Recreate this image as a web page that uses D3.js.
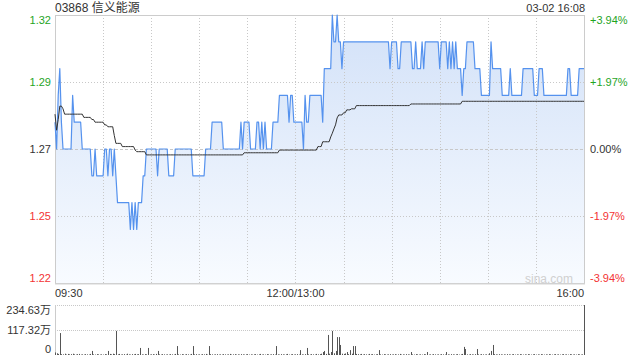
<!DOCTYPE html>
<html><head><meta charset="utf-8">
<script src="https://cdn.jsdelivr.net/npm/d3@7/dist/d3.min.js"></script>
<style>body{margin:0;background:#fff}svg{display:block}text{font-family:"Liberation Sans",Arial,"Noto Sans CJK SC",sans-serif}</style>
</head><body>
<svg id="c" width="640" height="360"></svg>
<script>
const title = "03868 信义能源";
const stamp = "03-02 16:08";
const prevClose = 1.27;
const priceTicks = [1.32, 1.295, 1.27, 1.245, 1.22];
const priceTickLabels = ["1.32", "1.29", "1.27", "1.25", "1.22"];
const pctTickLabels = ["+3.94%", "+1.97%", "0.00%", "-1.97%", "-3.94%"];
const timeGrid = [0, 30, 60, 90, 120, 150, 180, 210, 240, 270, 300, 330];
const timeLabels = ["09:30", "12:00/13:00", "16:00"];
const timeLabelIdx = [0, 150, 330];
const volTicks = [234.63, 117.32, 0];
const volTickLabels = ["234.63万", "117.32万", "0"];

const price = [
1.28,1.27,1.29,1.30,1.28,1.27,1.27,1.27,1.27,1.27,
1.27,1.29,1.28,1.28,1.28,1.28,1.28,1.27,1.27,1.27,
1.27,1.27,1.27,1.26,1.26,1.27,1.26,1.26,1.26,1.26,
1.26,1.27,1.27,1.26,1.27,1.27,1.26,1.27,1.26,1.25,
1.25,1.25,1.25,1.25,1.25,1.25,1.25,1.24,1.25,1.24,
1.25,1.24,1.25,1.25,1.25,1.26,1.26,1.27,1.27,1.27,
1.27,1.27,1.27,1.27,1.26,1.27,1.27,1.27,1.27,1.27,
1.27,1.26,1.26,1.26,1.26,1.27,1.27,1.27,1.27,1.27,
1.27,1.27,1.27,1.27,1.27,1.27,1.26,1.26,1.26,1.26,
1.26,1.26,1.26,1.26,1.27,1.27,1.27,1.27,1.28,1.28,
1.28,1.28,1.28,1.28,1.28,1.27,1.27,1.27,1.27,1.27,
1.27,1.27,1.27,1.27,1.27,1.27,1.28,1.27,1.28,1.28,
1.28,1.28,1.27,1.27,1.27,1.27,1.28,1.28,1.27,1.28,
1.27,1.28,1.27,1.27,1.27,1.27,1.28,1.28,1.28,1.28,
1.29,1.29,1.29,1.29,1.29,1.29,1.28,1.29,1.29,1.28,
1.28,1.28,1.28,1.28,1.28,1.27,1.29,1.28,1.28,1.29,
1.29,1.29,1.29,1.29,1.29,1.29,1.29,1.28,1.30,1.30,
1.30,1.30,1.30,1.32,1.31,1.31,1.32,1.31,1.31,1.30,
1.31,1.31,1.31,1.31,1.31,1.31,1.31,1.31,1.31,1.31,
1.31,1.31,1.31,1.31,1.31,1.31,1.31,1.31,1.31,1.31,
1.31,1.31,1.31,1.31,1.31,1.31,1.31,1.31,1.31,1.30,
1.31,1.31,1.31,1.31,1.30,1.30,1.31,1.31,1.31,1.31,
1.31,1.31,1.31,1.30,1.30,1.31,1.30,1.30,1.30,1.31,
1.30,1.31,1.31,1.31,1.31,1.31,1.31,1.31,1.31,1.31,
1.30,1.31,1.31,1.31,1.31,1.30,1.31,1.30,1.31,1.30,
1.31,1.30,1.30,1.30,1.29,1.30,1.30,1.31,1.31,1.31,
1.31,1.31,1.30,1.30,1.30,1.30,1.29,1.29,1.29,1.29,
1.29,1.29,1.31,1.30,1.30,1.30,1.30,1.30,1.30,1.29,
1.29,1.29,1.29,1.29,1.30,1.29,1.29,1.29,1.29,1.29,
1.29,1.29,1.30,1.30,1.30,1.30,1.30,1.30,1.30,1.29,
1.29,1.29,1.30,1.30,1.30,1.29,1.29,1.29,1.29,1.29,
1.29,1.29,1.29,1.29,1.29,1.29,1.29,1.29,1.29,1.29,
1.30,1.30,1.29,1.29,1.29,1.29,1.29,1.30,1.30,1.30,
1.30];

const avgPrice = [
1.283,1.277,1.281,1.286,1.286,1.285,1.283,1.283,1.283,1.283,
1.283,1.283,1.283,1.283,1.283,1.283,1.283,1.283,1.2818,1.2818,
1.2818,1.2818,1.2818,1.281,1.281,1.280,1.280,1.280,1.280,1.280,
1.280,1.279,1.279,1.2783,1.2783,1.2783,1.2783,1.275,1.2721,1.2721,
1.2721,1.2721,1.2709,1.2709,1.2709,1.2709,1.2709,1.2709,1.2709,1.2709,
1.2696,1.269,1.269,1.269,1.269,1.269,1.269,1.2678,1.2678,1.2678,
1.2678,1.2678,1.2678,1.2678,1.2678,1.2678,1.2678,1.2678,1.2678,1.2678,
1.2678,1.2678,1.2678,1.2678,1.2678,1.2678,1.2678,1.2678,1.2678,1.2678,
1.2678,1.2678,1.2678,1.2678,1.2678,1.2678,1.2678,1.2678,1.2678,1.2678,
1.2678,1.2678,1.2678,1.2678,1.2678,1.2678,1.2678,1.2678,1.2678,1.2678,
1.2678,1.2678,1.2678,1.2678,1.2678,1.2678,1.2678,1.2678,1.2678,1.2678,
1.2678,1.2678,1.2678,1.2678,1.2678,1.2678,1.2678,1.2678,1.2686,1.2686,
1.2686,1.2686,1.2686,1.2686,1.2686,1.2686,1.2686,1.2686,1.2686,1.2686,
1.2686,1.2686,1.2686,1.2686,1.2686,1.2686,1.2686,1.2686,1.2686,1.2686,
1.2696,1.2696,1.2696,1.2696,1.2696,1.2696,1.2696,1.2696,1.2696,1.2696,
1.2696,1.2696,1.2696,1.2696,1.2696,1.2696,1.2696,1.2696,1.2696,1.2696,
1.2696,1.2696,1.2696,1.2696,1.2709,1.2709,1.2709,1.2727,1.2727,1.2727,
1.2727,1.2727,1.2745,1.2759,1.2775,1.279,1.2816,1.2827,1.2827,1.2827,
1.2835,1.2835,1.2846,1.2846,1.2846,1.285,1.285,1.285,1.2862,1.2862,
1.2862,1.2862,1.2862,1.2862,1.2862,1.2862,1.2862,1.2862,1.2862,1.2862,
1.2862,1.2862,1.2862,1.2862,1.2862,1.2862,1.2862,1.2862,1.2862,1.2862,
1.2862,1.2862,1.2862,1.2862,1.2862,1.2862,1.2862,1.2862,1.2862,1.2862,
1.2862,1.2862,1.2868,1.2868,1.2868,1.2868,1.2868,1.2868,1.2868,1.2868,
1.2868,1.2868,1.2868,1.2868,1.2868,1.2868,1.2868,1.2868,1.2868,1.2868,
1.2868,1.2868,1.2868,1.2868,1.2868,1.2868,1.2868,1.2868,1.2868,1.2868,
1.2868,1.2868,1.2868,1.2868,1.2878,1.2878,1.2878,1.2878,1.2878,1.2878,
1.2878,1.2878,1.2878,1.2878,1.2878,1.2878,1.2878,1.2878,1.2878,1.2878,
1.2878,1.2878,1.2878,1.2878,1.2878,1.2878,1.2878,1.2878,1.2878,1.2878,
1.2878,1.2878,1.2878,1.2878,1.2878,1.2878,1.2878,1.2878,1.2878,1.2878,
1.2878,1.2878,1.2878,1.2878,1.2878,1.2878,1.2878,1.2878,1.2878,1.2878,
1.2878,1.2878,1.2878,1.2878,1.2878,1.2878,1.2878,1.2878,1.2878,1.2878,
1.2878,1.2878,1.2878,1.2878,1.2878,1.2878,1.2878,1.2878,1.2878,1.2878,
1.2878,1.2878,1.2878,1.2878,1.2878,1.2878,1.2878,1.2878,1.2878,1.2878,
1.2878];

const volume = [
12,8,5,103,4,3,6,2,5,3,
4,6,3,2,4,5,2,3,2,4,
3,2,5,19,3,2,4,3,2,3,
2,4,3,19,5,3,6,4,113,3,
5,2,3,4,2,6,3,2,4,3,
5,3,4,33,3,2,4,3,33,2,
3,4,2,5,19,3,2,4,3,2,
3,2,4,3,2,5,42,3,2,4,
3,2,4,3,2,5,42,3,4,2,
3,2,4,3,5,2,42,4,3,2,
3,4,2,3,2,4,3,2,3,5,
2,3,4,2,3,2,4,3,2,3,
4,2,3,2,3,4,2,3,5,2,
3,2,4,3,2,3,4,2,42,3,
2,4,3,2,3,5,2,3,4,2,
3,4,2,23,3,2,4,33,3,2,
4,3,2,5,3,4,6,14,19,5,
94,6,14,113,8,19,84,84,47,6,
5,7,14,4,23,6,42,42,5,4,
3,5,2,4,3,2,5,3,4,2,
3,4,23,3,2,4,3,2,3,4,
2,3,4,2,3,5,2,3,2,4,
3,2,14,3,2,4,3,2,3,2,
4,3,14,2,3,2,4,3,2,3,
2,4,3,2,14,3,2,4,3,2,
3,4,2,3,5,38,28,3,2,4,
3,2,4,28,3,2,4,3,2,3,
2,8,19,47,4,3,2,4,3,2,
3,2,4,3,2,3,4,2,3,2,
4,3,2,3,2,4,3,2,3,4,
2,3,2,4,3,2,3,2,4,3,
2,3,4,2,3,2,3,4,2,3,
2,4,3,2,3,2,4,3,2,3,
234.63];

const svg = d3.select("#c");
const L = 55, R = 584, T = 15, B = 283;
const VT = 305, VB = 355;
const green = "#1fa51f", red = "#f33333", dark = "#333";
const x = d3.scaleLinear().domain([0, 330]).range([L, R]);
const y = d3.scaleLinear().domain([1.22, 1.32]).range([B, T]);
const yv = d3.scaleLinear().domain([0, 234.63]).range([VB, VT]);
const col = v => Math.abs(v - prevClose) < 1e-9 ? dark : (v > prevClose ? green : red);

const defs = svg.append("defs");
const g = defs.append("linearGradient").attr("id", "fill").attr("gradientUnits", "userSpaceOnUse")
  .attr("x1", 0).attr("y1", T).attr("x2", 0).attr("y2", B);
g.append("stop").attr("offset", 0).attr("stop-color", "#d2e1f8");
g.append("stop").attr("offset", 1).attr("stop-color", "#f8fbff");

// area
svg.append("path").datum(price)
  .attr("d", d3.area().x((d, i) => x(i)).y0(B).y1(d => y(d)))
  .attr("fill", "url(#fill)");

// grids
svg.append("g").selectAll("line").data(timeGrid.slice(1, -1)).join("line")
  .attr("x1", d => Math.round(x(d)) + 0.5).attr("x2", d => Math.round(x(d)) + 0.5)
  .attr("y1", T).attr("y2", B).attr("stroke", "#c8c8c8").attr("stroke-dasharray", "1,2");
svg.append("g").selectAll("line").data(priceTicks.slice(1, -1)).join("line")
  .attr("x1", L).attr("x2", R)
  .attr("y1", d => Math.round(y(d)) + 0.5).attr("y2", d => Math.round(y(d)) + 0.5)
  .attr("stroke", "#c8c8c8").attr("stroke-dasharray", d => d === prevClose ? "3,2" : "1,2");

// frame
svg.append("rect").attr("x", L + 0.5).attr("y", T + 0.5).attr("width", R - L).attr("height", B - T)
  .attr("fill", "none").attr("stroke", "#cccccc");
svg.append("line").attr("x1", L).attr("x2", R + 1).attr("y1", B + 1).attr("y2", B + 1).attr("stroke", "#d6d6d6");

// price line
svg.append("path").datum(price)
  .attr("d", d3.line().x((d, i) => x(i)).y(d => y(d)))
  .attr("fill", "none").attr("stroke", "#5592ee").attr("stroke-width", 1.2).attr("stroke-linejoin", "round");
// avg line
svg.append("path").datum(avgPrice)
  .attr("d", d3.line().x((d, i) => x(i)).y(d => y(d)))
  .attr("fill", "none").attr("stroke", "#333").attr("stroke-width", 1);

// left / right labels
const offs = [5, 0, 0, 0, -5];
svg.append("g").selectAll("text").data(priceTicks).join("text")
  .attr("x", 51).attr("y", (d, i) => y(d) + offs[i]).attr("dy", "0.35em")
  .attr("text-anchor", "end").attr("font-size", 11).attr("fill", d => col(d))
  .text((d, i) => priceTickLabels[i]);
svg.append("g").selectAll("text").data(priceTicks).join("text")
  .attr("x", 590).attr("y", (d, i) => y(d) + offs[i]).attr("dy", "0.35em")
  .attr("text-anchor", "start").attr("font-size", 11).attr("fill", d => col(d))
  .text((d, i) => pctTickLabels[i]);

// time labels
const anchors = ["start", "middle", "end"];
svg.append("g").selectAll("text").data(timeLabelIdx).join("text")
  .attr("x", d => x(d)).attr("y", 297).attr("text-anchor", (d, i) => anchors[i])
  .attr("font-size", 11).attr("fill", dark).text((d, i) => timeLabels[i]);

// title
svg.append("text").attr("x", L).attr("y", 12).attr("font-size", 12).attr("fill", dark).text(title);
svg.append("text").attr("x", R + 1).attr("y", 12).attr("text-anchor", "end").attr("font-size", 11).attr("fill", dark).text(stamp);
svg.append("text").attr("x", 573).attr("y", 283).attr("text-anchor", "end").attr("font-size", 12).attr("fill", "#d0d0d0").text("sina.com");

// volume panel
svg.append("g").selectAll("line").data(volTicks.slice(0, 2)).join("line")
  .attr("x1", L).attr("x2", R).attr("y1", d => Math.round(yv(d)) + 0.5).attr("y2", d => Math.round(yv(d)) + 0.5)
  .attr("stroke", "#c8c8c8").attr("stroke-dasharray", "1,1");
svg.append("line").attr("x1", L + 0.5).attr("x2", L + 0.5).attr("y1", VT).attr("y2", VB).attr("stroke", "#cccccc");
svg.append("g").selectAll("line").data(volume).join("line")
  .attr("x1", (d, i) => Math.round(x(i)) + 0.5).attr("x2", (d, i) => Math.round(x(i)) + 0.5)
  .attr("y1", yv(0)).attr("y2", d => yv(d)).attr("stroke", "#555").attr("stroke-width", 1);
const voffs = [5, 0, -6];
svg.append("g").selectAll("text").data(volTicks).join("text")
  .attr("x", 51).attr("y", (d, i) => yv(d) + voffs[i]).attr("dy", "0.35em")
  .attr("text-anchor", "end").attr("font-size", 11).attr("fill", dark)
  .text((d, i) => volTickLabels[i]);
</script>
</body></html>
